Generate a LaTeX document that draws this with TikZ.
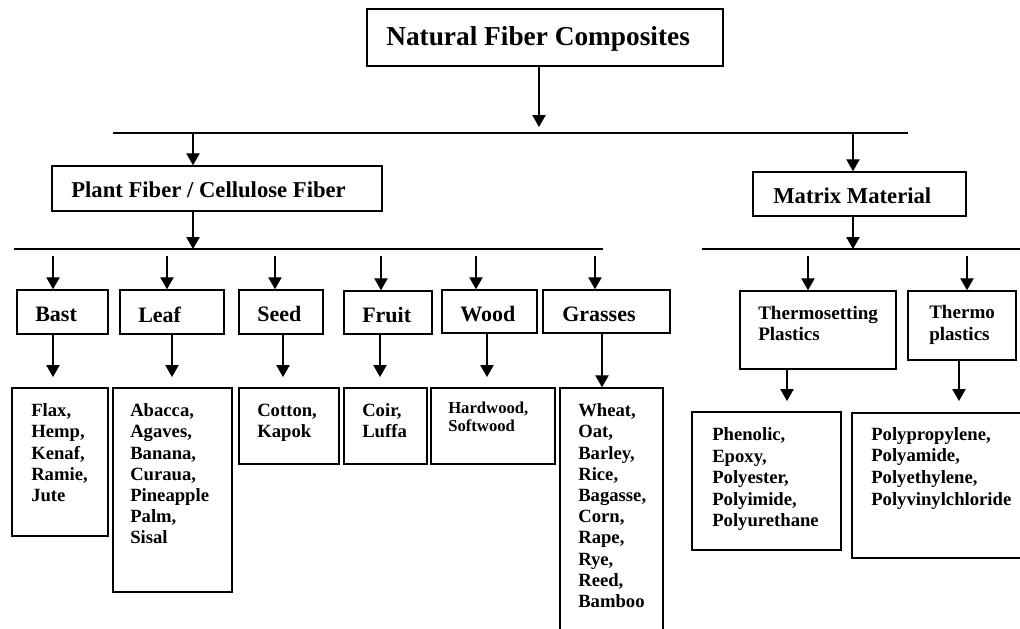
\documentclass[tikz,border=0pt]{standalone}
\usepackage{fontspec}
\setmainfont{Liberation Serif}
\usetikzlibrary{arrows.meta,fit}
\begin{document}
\begin{tikzpicture}[x=0.75pt,y=-0.75pt,
  box/.style={draw, line width=1.1pt, inner sep=0pt},
  arr/.style={line width=1pt, -{Triangle[width=10pt,length=9pt]}},
  bar/.style={line width=1.2pt},
  lbl/.style={inner sep=0pt, anchor=base west},
  lst/.style={inner sep=0pt, anchor=north west, align=left},
  ftop/.style={font=\bfseries\fontsize{20.5}{24}\selectfont},
  fmid/.style={font=\bfseries\fontsize{17}{20}\selectfont},
  fhead/.style={font=\bfseries\fontsize{16.5}{19}\selectfont},
  fplast/.style={font=\bfseries\fontsize{14.3}{16}\selectfont},
  flist/.style={font=\bfseries\fontsize{14}{15.9}\selectfont},
  fsmall/.style={font=\bfseries\fontsize{12.5}{13.5}\selectfont}
]
\useasboundingbox (0,0) rectangle (1020,628);
\clip (0,0) rectangle (1020,628);

% ---- boxes ----
\node[box, fit={(367,9) (723,66)}] (nfc) {};
\node[box, fit={(52,166) (382,211)}] (pf) {};
\node[box, fit={(753,172) (966,216)}] (mm) {};

\node[box, fit={(17,290) (108,334)}] (bast) {};
\node[box, fit={(120,290) (224,334)}] (leaf) {};
\node[box, fit={(239,290) (323,334)}] (seed) {};
\node[box, fit={(344,291) (432,334)}] (fruit) {};
\node[box, fit={(442,290) (537,333)}] (wood) {};
\node[box, fit={(543,290) (670,333)}] (grass) {};
\node[box, fit={(740,291) (896,369)}] (tset) {};
\node[box, fit={(908,291) (1016,360)}] (tplast) {};

\node[box, fit={(12,388) (108,536)}] (bastl) {};
\node[box, fit={(113,388) (232,592)}] (leafl) {};
\node[box, fit={(239,388) (339,464)}] (seedl) {};
\node[box, fit={(344,388) (427,464)}] (fruitl) {};
\node[box, fit={(431,388) (555,464)}] (woodl) {};
\node[box, fit={(560,388) (663,660)}] (grassl) {};
\node[box, fit={(692,412) (841,550)}] (tsetl) {};
\node[box, fit={(852,413) (1030,558)}] (tplastl) {};

% ---- texts ----
\node[lbl, ftop] (nfct) at (386,45) {Natural Fiber Composites};
\node[lbl, fmid] (pft) at (71,197) {Plant Fiber / Cellulose Fiber};
\node[lbl, fmid] (mmt) at (773,203) {Matrix Material};

\node[lbl, fhead] (bastt) at (35,321) {Bast};
\node[lbl, fhead] (leaft) at (138,322) {Leaf};
\node[lbl, fhead] (seedt) at (257,321) {Seed};
\node[lbl, fhead] (fruitt) at (362,322) {Fruit};
\node[lbl, fhead] (woodt) at (460,321) {Wood};
\node[lbl, fhead] (grasst) at (562,321) {Grasses};
\node[lst, fplast] (tsett) at (758,305.5) {Thermosetting\\Plastics};
\node[lst, font=\bfseries\fontsize{14.3}{16.5}\selectfont] (tplastt) at (929,304.5) {Thermo\\plastics};

\node[lst, flist] (bastlt) at (31,403.5) {Flax,\\Hemp,\\Kenaf,\\Ramie,\\Jute};
\node[lst, flist] (leaflt) at (130,403.5) {Abacca,\\Agaves,\\Banana,\\Curaua,\\Pineapple\\Palm,\\Sisal};
\node[lst, flist] (seedlt) at (257,403.5) {Cotton,\\Kapok};
\node[lst, flist] (fruitlt) at (362,403.5) {Coir,\\Luffa};
\node[lst, fsmall] (woodlt) at (448,401.5) {Hardwood,\\Softwood};
\node[lst, flist] (grasslt) at (578,403.5) {Wheat,\\Oat,\\Barley,\\Rice,\\Bagasse,\\Corn,\\Rape,\\Rye,\\Reed,\\Bamboo};
\node[lst, font=\bfseries\fontsize{14}{16.1}\selectfont] (tsetlt) at (712,427.5) {Phenolic,\\Epoxy,\\Polyester,\\Polyimide,\\Polyurethane};
\node[lst, font=\bfseries\fontsize{14}{16.2}\selectfont] (tplastlt) at (871,427) {Polypropylene,\\Polyamide,\\Polyethylene,\\Polyvinylchloride};

% ---- bars ----
\coordinate (b1l) at (113,133);
\coordinate (b1r) at (908,133);
\draw[bar] (b1l) -- (b1r);
\coordinate (b2l) at (14,249);
\coordinate (b2r) at (603,249);
\draw[bar] (b2l) -- (b2r);
\coordinate (b3l) at (702,249);
\coordinate (b3r) at (1020,249);
\draw[bar] (b3l) -- (b3r);

% ---- connectors ----
\coordinate (t1) at (539,127);
\draw[arr] (nfc.south -| t1) -- (t1);
\coordinate (a1) at (193,133);
\draw[arr] (a1) -- (a1 |- pf.north);
\coordinate (a2) at (853,133);
\draw[arr] (a2) -- (a2 |- mm.north);
\coordinate (p1) at (193,249);
\draw[arr] (pf.south -| p1) -- (p1);
\coordinate (m1) at (853,249);
\draw[arr] (mm.south -| m1) -- (m1);

\coordinate (s1) at (53,256);
\coordinate (s2) at (167,256);
\coordinate (s3) at (275,256);
\coordinate (s4) at (381,256);
\coordinate (s5) at (476,256);
\coordinate (s6) at (595,256);
\coordinate (s7) at (808,256);
\coordinate (s8) at (967,256);
\draw[arr] (s1) -- (s1 |- bast.north);
\draw[arr] (s2) -- (s2 |- leaf.north);
\draw[arr] (s3) -- (s3 |- seed.north);
\draw[arr] (s4) -- (s4 |- fruit.north);
\draw[arr] (s5) -- (s5 |- wood.north);
\draw[arr] (s6) -- (s6 |- grass.north);
\draw[arr] (s7) -- (s7 |- tset.north);
\draw[arr] (s8) -- (s8 |- tplast.north);

\coordinate (e1) at (53,377);
\coordinate (e2) at (172,377);
\coordinate (e3) at (283,377);
\coordinate (e4) at (380,377);
\coordinate (e5) at (487,377);
\coordinate (e6) at (602,388);
\coordinate (e7) at (787,401);
\coordinate (e8) at (959,401);
\draw[arr] (bast.south -| e1) -- (e1);
\draw[arr] (leaf.south -| e2) -- (e2);
\draw[arr] (seed.south -| e3) -- (e3);
\draw[arr] (fruit.south -| e4) -- (e4);
\draw[arr] (wood.south -| e5) -- (e5);
\draw[arr] (grass.south -| e6) -- (e6 |- grassl.north);
\draw[arr] (tset.south -| e7) -- (e7);
\draw[arr] (tplast.south -| e8) -- (e8);
\end{tikzpicture}
\end{document}
